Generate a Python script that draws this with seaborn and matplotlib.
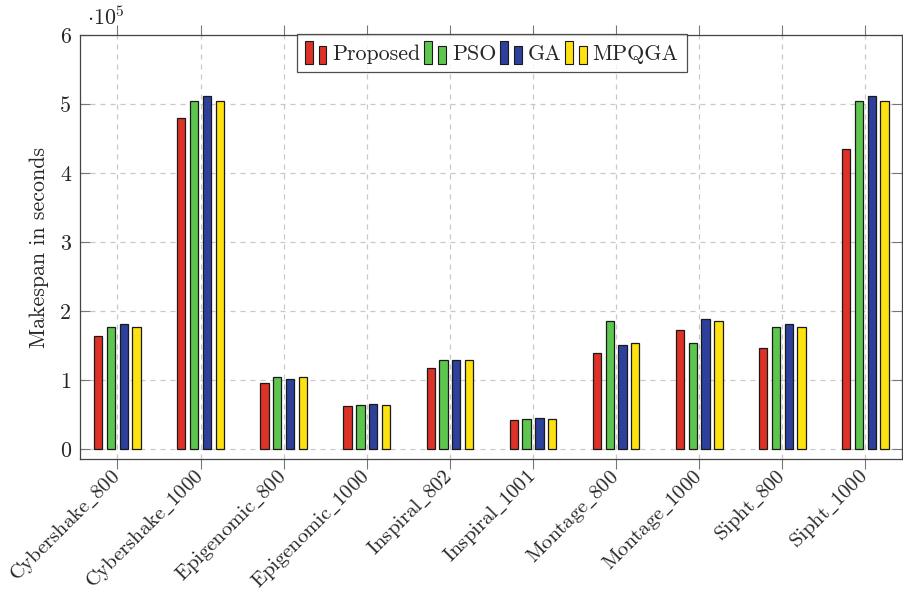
import numpy as np
import pandas as pd
import matplotlib
matplotlib.use("Agg")
import matplotlib.pyplot as plt
from matplotlib.patches import Rectangle
from matplotlib.legend_handler import HandlerBase
import seaborn as sns

workflows = ["Cybershake_800", "Cybershake_1000", "Epigenomic_800", "Epigenomic_1000",
             "Inspiral_802", "Inspiral_1001", "Montage_800", "Montage_1000",
             "Sipht_800", "Sipht_1000"]
methods = ["Proposed", "PSO", "GA", "MPQGA"]

# makespan in units of 1e5 seconds
proposed = [1.637, 4.80, 0.963, 0.62, 1.18, 0.419, 1.40, 1.73, 1.47, 4.354]
pso      = [1.777, 5.05, 1.045, 0.645, 1.296, 0.443, 1.854, 1.54, 1.777, 5.05]
ga       = [1.816, 5.11, 1.02, 0.655, 1.296, 0.452, 1.507, 1.888, 1.82, 5.115]
mpqga    = [1.777, 5.05, 1.045, 0.645, 1.296, 0.443, 1.536, 1.854, 1.777, 5.05]

colors = ["#de3127", "#5dc64e", "#2c409c", "#fde20f"]

df = pd.DataFrame({
    "workflow": workflows * 4,
    "method": sum([[m] * len(workflows) for m in methods], []),
    "makespan": proposed + pso + ga + mpqga,
})

sns.set_style("white")
plt.rcParams["font.family"] = ["cmr10", "DejaVu Serif"]
plt.rcParams["mathtext.fontset"] = "cm"
plt.rcParams["axes.formatter.use_mathtext"] = True

FS = 15.8

fig = plt.figure(figsize=(9.04, 5.94), dpi=100)
ax = fig.add_axes([0.0885, 0.2268, 0.9093, 0.7143])

sns.barplot(data=df, x="workflow", y="makespan", hue="method", hue_order=methods,
            palette=colors, width=0.616, gap=0.35, edgecolor="#1a1a1a", linewidth=0.9,
            saturation=1, ax=ax, legend=False, zorder=3)

ax.set_xlim(-0.45, 9.44)
ax.set_ylim(-0.145, 6)
ax.set_yticks(range(0, 7))
ax.set_yticklabels([str(v) for v in range(0, 7)], fontsize=FS)
ax.set_xticks(range(len(workflows)))
# the roman font has no underscore glyph, so the labels go through mathtext
xlabels = [r"$\mathrm{" + w.replace("_", r"\_") + "}$" for w in workflows]
ax.set_xticklabels(xlabels, rotation=45, ha="right", va="center",
                   rotation_mode="anchor", fontsize=14.9)
ax.set_xlabel("")
ax.set_ylabel("Makespan in seconds", fontsize=FS, labelpad=8)

ax.grid(True, color="#c8c8c8", linestyle=(0, (4, 4)), linewidth=0.9, zorder=0)
ax.set_axisbelow(True)
ax.tick_params(axis="y", direction="in", length=7, width=0.8, color="#777777",
               left=True, right=True, pad=6.5)
ax.tick_params(axis="x", direction="out", length=7, width=0.8, color="#777777",
               bottom=True, top=True, pad=3.5)
for s in ax.spines.values():
    s.set_color("#444444")
    s.set_linewidth(0.9)

ax.text(0.008, 1.015, r"$\cdot 10^{5}$", transform=ax.transAxes, fontsize=FS,
        ha="left", va="bottom")


class TwoBarHandler(HandlerBase):
    def create_artists(self, legend, orig_handle, xdescent, ydescent,
                       width, height, fontsize, trans):
        c = orig_handle.get_facecolor()
        w = width * 0.36
        y0 = -ydescent - height * 0.12
        r1 = Rectangle((-xdescent, y0), w, height * 1.2, facecolor=c,
                       edgecolor="#1a1a1a", linewidth=0.8, transform=trans)
        r2 = Rectangle((-xdescent + width * 0.62, y0), w, height * 0.92,
                       facecolor=c, edgecolor="#1a1a1a", linewidth=0.8, transform=trans)
        return [r1, r2]


handles = [Rectangle((0, 0), 1, 1, facecolor=c) for c in colors]
leg = ax.legend(handles, methods, loc="upper center", bbox_to_anchor=(0.501, 1.002),
                ncol=4, fontsize=FS, frameon=True, fancybox=False, edgecolor="#222222",
                handler_map={Rectangle: TwoBarHandler()}, handlelength=1.0, handleheight=1.0,
                handletextpad=0.25, columnspacing=0.18, borderpad=0.38, borderaxespad=0)
leg.get_frame().set_linewidth(0.9)

fig.savefig("out.png", dpi=100)
